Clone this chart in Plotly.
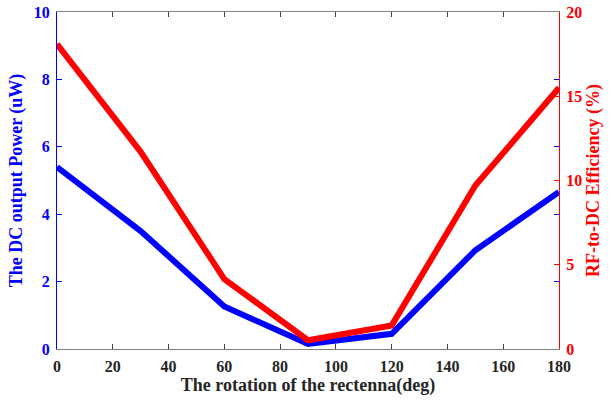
import plotly.graph_objects as go

rotation_deg = [0, 30, 60, 90, 120, 150, 180]
dc_power_uw = [5.4, 3.5, 1.26, 0.15, 0.45, 2.93, 4.66]
efficiency_pct = [18.1, 11.7, 4.15, 0.52, 1.4, 9.7, 15.5]

FONT = "Liberation Serif"

fig = go.Figure()
fig.add_trace(go.Scatter(x=rotation_deg, y=dc_power_uw, mode="lines",
                         line=dict(color="#0000ff", width=6), yaxis="y",
                         showlegend=False))
fig.add_trace(go.Scatter(x=rotation_deg, y=efficiency_pct, mode="lines",
                         line=dict(color="#ff0000", width=6), yaxis="y2",
                         showlegend=False))

fig.update_layout(
    width=615, height=401,
    margin=dict(l=57, r=56, t=12, b=52),
    paper_bgcolor="white", plot_bgcolor="white",
    font=dict(family=FONT, size=16),
    xaxis=dict(range=[0, 180], tickvals=list(range(0, 181, 20)),
               automargin=False,
               showgrid=False, zeroline=False, showline=True,
               linecolor="#808080", linewidth=1, mirror="ticks",
               ticks="inside", ticklen=5, tickcolor="#404040",
               ticklabelstandoff=3,
               tickfont=dict(family=FONT, size=16, color="#262626", weight="bold"),
               title=dict(text="<b>The rotation of the rectenna(deg)</b>",
                          font=dict(family=FONT, size=18, color="#262626"),
                          standoff=3)),
    yaxis=dict(range=[0, 10], tickvals=[0, 2, 4, 6, 8, 10],
               automargin=False,
               showgrid=False, zeroline=False, showline=True,
               linecolor="#0000ff", linewidth=1, mirror="ticks",
               ticks="inside", ticklen=5, tickcolor="#0000ff",
               ticklabelstandoff=3,
               tickfont=dict(family=FONT, size=16, color="#0000ff", weight="bold"),
               title=dict(text="<b>The DC output Power (uW)</b>",
                          font=dict(family=FONT, size=18, color="#0000ff"),
                          standoff=6)),
    yaxis2=dict(range=[0, 20], tickvals=[0, 5, 10, 15, 20],
                overlaying="y", side="right", automargin=False,
                showgrid=False, zeroline=False, showline=True,
                linecolor="#ff0000", linewidth=1,
                ticks="inside", ticklen=5, tickcolor="#ff0000",
                ticklabelstandoff=3,
                tickfont=dict(family=FONT, size=16, color="#ff0000", weight="bold"),
                title=dict(text="<b>RF-to-DC Efficiency (%)</b>",
                           font=dict(family=FONT, size=18, color="#ff0000"),
                           standoff=5)),
)

fig.write_html("out.html", config={"displayModeBar": False},
               post_script="document.body.style.margin='0px';")
